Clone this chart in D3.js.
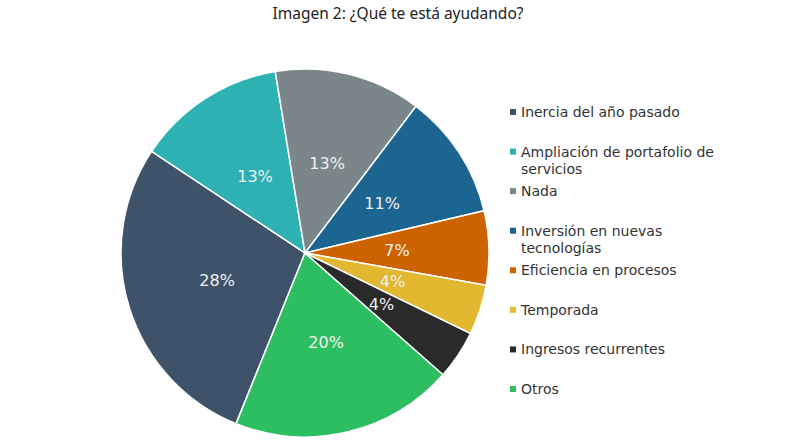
<!DOCTYPE html>
<html>
<head>
<meta charset="utf-8">
<script src="https://cdn.jsdelivr.net/npm/d3@7"></script>
<style>
  body { margin: 0; background: #fff; }
  svg { display: block; }
</style>
</head>
<body>
<div id="chart"></div>
<script>
// Chart data
const categories = [
    ["Inercia del año pasado"],
    ["Ampliación de portafolio de", "servicios"],
    ["Nada"],
    ["Inversión en nuevas", "tecnologías"],
    ["Eficiencia en procesos"],
    ["Temporada"],
    ["Ingresos recurrentes"],
    ["Otros"]
];
const values = [28.2, 13.1, 12.9, 11.0, 6.5, 4.4, 4.3, 19.6];
const colors = ["#3e5369", "#2db1b3", "#7b868b", "#1b6590", "#cc6300", "#e2b830", "#2a2a2a", "#2ebe62"];
const title = "Imagen 2: ¿Qué te está ayudando?";

const width = 800, height = 445;
const cx = 305, cy = 253, radius = 184;
const firstAngle = 202 * Math.PI / 180;

const svg = d3.select("#chart")
    .append("svg")
    .attr("width", width)
    .attr("height", height);

// Title
svg.append("text")
    .attr("x", 398)
    .attr("y", 18.5)
    .attr("text-anchor", "middle")
    .style("font-family", "'Noto Sans', sans-serif")
    .style("font-size", "15.5px")
    .style("fill", "#222")
    .text(title);

const total = d3.sum(values);
const data = values.map((v, i) => ({ value: v, index: i }));

const pie = d3.pie()
    .sort(null)
    .value(d => d.value)
    .startAngle(firstAngle)
    .endAngle(firstAngle + 2 * Math.PI);

const arc = d3.arc().innerRadius(0).outerRadius(radius);
const labelArc = d3.arc().innerRadius(radius * 0.5).outerRadius(radius * 0.5);

const g = svg.append("g").attr("transform", `translate(${cx},${cy})`);

// Slices
g.selectAll("path.slice")
    .data(pie(data))
    .enter().append("path")
    .attr("class", "slice")
    .attr("d", arc)
    .attr("fill", d => colors[d.data.index])
    .attr("stroke", "#fff")
    .attr("stroke-width", 1.5);

// Percentage labels
g.selectAll("text.pct")
    .data(pie(data))
    .enter().append("text")
    .attr("class", "pct")
    .attr("transform", d => `translate(${labelArc.centroid(d)})`)
    .attr("text-anchor", "middle")
    .attr("dy", "0.36em")
    .style("font-family", "'DejaVu Sans', Verdana, sans-serif")
    .style("font-size", "16px")
    .style("fill", "#f0f0f0")
    .text(d => Math.round(d.data.value / total * 100) + "%");

// Legend
const legendY = d3.scaleLinear().domain([0, categories.length - 1]).range([112, 389]);
const legend = svg.append("g");

categories.forEach(function(lines, i) {
    const y = legendY(i);
    legend.append("rect")
        .attr("x", 510)
        .attr("y", y - 3)
        .attr("width", 6)
        .attr("height", 6)
        .attr("fill", colors[i]);
    lines.forEach(function(line, j) {
        legend.append("text")
            .attr("x", 521)
            .attr("y", y + j * 17)
            .attr("dy", "0.36em")
            .style("font-family", "'DejaVu Sans', Verdana, sans-serif")
            .style("font-size", "14px")
            .style("fill", "#333")
            .text(line);
    });
});
</script>
</body>
</html>
